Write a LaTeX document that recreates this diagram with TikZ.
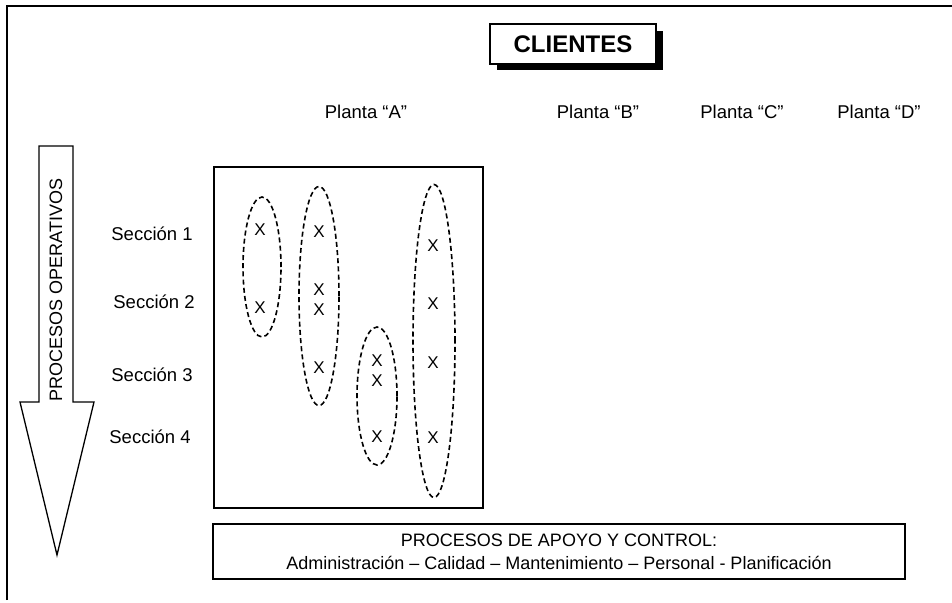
\documentclass[tikz,border=0pt]{standalone}
\usepackage{fontspec}
\setmainfont{Liberation Sans}
\usetikzlibrary{shapes.geometric}
\begin{document}
\begin{tikzpicture}[x=1pt,y=-1pt,
  lbl/.style={inner sep=0pt, font=\fontsize{18.5}{22}\selectfont},
  xmark/.style={inner sep=0pt, font=\fontsize{17}{20}\selectfont},
  grp/.style={ellipse, draw, line width=1.6pt, dash pattern=on 5pt off 3.2pt, inner sep=0pt},
  frame/.style={line width=1.6pt}]
\useasboundingbox (0,0) rectangle (952,602);
% outer frame
\coordinate (fbl) at (7,600);
\coordinate (ftl) at (7,6);
\coordinate (ftr) at (952,6);
\draw[frame] (fbl) -- (ftl) -- (ftr);
% CLIENTES
\fill (497,31) rectangle (663,70);
\node (cli) [draw, fill=white, line width=1.6pt, minimum width=166pt, minimum height=40pt, inner sep=0pt,
  font=\fontsize{24}{28}\selectfont\bfseries] at (573,44) {CLIENTES};
% plants
\node (pA) [lbl] at (366,112) {Planta “A”};
\node (pB) [lbl] at (598,112) {Planta “B”};
\node (pC) [lbl] at (742,112) {Planta “C”};
\node (pD) [lbl] at (879,112) {Planta “D”};
% arrow
\draw[line width=1.3pt, line join=miter] (39,146) -- (73,146) -- (73,402) -- (94,402) -- (57,555) -- (20,402) -- (39,402) -- cycle;
\node (arr) [inner sep=0pt, rotate=90, font=\fontsize{18}{21}\selectfont] at (56,290) {PROCESOS OPERATIVOS};
% sections
\node (s1) [lbl] at (152,234) {Sección 1};
\node (s2) [lbl] at (154,302) {Sección 2};
\node (s3) [lbl] at (152,375) {Sección 3};
\node (s4) [lbl] at (150,437) {Sección 4};
% main box
\node (mainbox) [draw, line width=2.6pt, inner sep=0pt, minimum width=269pt, minimum height=341pt] at (348.5,337.5) {};
% groups
\node (e1) [grp, minimum width=38pt, minimum height=140pt] at (262,267) {};
\node (e2) [grp, minimum width=40pt, minimum height=219pt] at (319,296) {};
\node (e3) [grp, minimum width=40pt, minimum height=138pt] at (377,396) {};
\node (e4) [grp, minimum width=42pt, minimum height=313pt] at (434,341) {};
% marks
\node (x11) [xmark] at (260,230) {X};
\node (x12) [xmark] at (260,308) {X};
\node (x21) [xmark] at (319,232) {X};
\node (x22) [xmark] at (319,290) {X};
\node (x23) [xmark] at (319,310) {X};
\node (x24) [xmark] at (319,368) {X};
\node (x31) [xmark] at (377,361) {X};
\node (x32) [xmark] at (377,381) {X};
\node (x33) [xmark] at (377,437) {X};
\node (x41) [xmark] at (433,246) {X};
\node (x42) [xmark] at (433,304) {X};
\node (x43) [xmark] at (433,363) {X};
\node (x44) [xmark] at (433,438) {X};
% support processes
\node (apoyo) [draw, line width=1.3pt, minimum width=692pt, minimum height=55pt, inner sep=0pt, align=center,
  font=\fontsize{18}{23}\selectfont] at (559,551.5)
  {PROCESOS DE APOYO Y CONTROL:\\Administración – Calidad – Mantenimiento – Personal - Planificación};
\end{tikzpicture}
\end{document}
